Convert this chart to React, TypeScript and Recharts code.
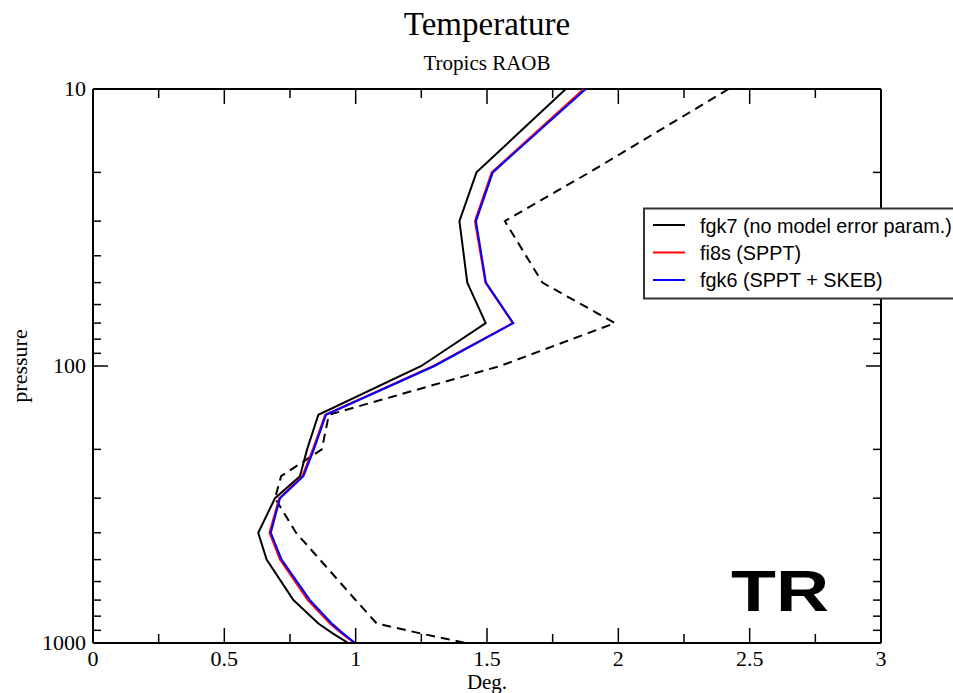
import { LineChart, Line, XAxis, YAxis, ReferenceLine } from "recharts";

// pressure levels (hPa)
const pressure = [10, 20, 30, 50, 70, 100, 150, 200, 250, 300, 400, 500, 700, 850, 925, 1000];

// RMS temperature error (deg) per level
const fgk7 = [1.8, 1.46, 1.395, 1.425, 1.495, 1.25, 0.858, 0.815, 0.788, 0.693, 0.629, 0.661, 0.763, 0.858, 0.914, 0.972];
const fi8s = [1.868, 1.518, 1.454, 1.494, 1.598, 1.296, 0.884, 0.837, 0.797, 0.709, 0.672, 0.712, 0.818, 0.902, 0.948, 0.996];
const fgk6 = [1.876, 1.522, 1.458, 1.496, 1.6, 1.3, 0.887, 0.841, 0.801, 0.712, 0.677, 0.718, 0.826, 0.909, 0.953, 0.998];
const spread = [2.42, 1.89, 1.568, 1.711, 1.987, 1.55, 0.898, 0.871, 0.716, 0.693, 0.773, 0.864, 1.0, 1.08, 1.25, 1.42];

const xTicks = [0, 0.25, 0.5, 0.75, 1, 1.25, 1.5, 1.75, 2, 2.25, 2.5, 2.75, 3];
const yTicks = [10, 20, 30, 40, 50, 60, 70, 80, 90, 100, 200, 300, 400, 500, 600, 700, 800, 900, 1000];
const yLabels = [10, 100, 1000];

const legendItems = [
  { name: "fgk7 (no model error param.)", color: "#000000" },
  { name: "fi8s (SPPT)", color: "#ff0000" },
  { name: "fgk6 (SPPT + SKEB)", color: "#0000ff" },
];

const rows = pressure.map((p, i) => ({
  p,
  fgk7: fgk7[i],
  fi8s: fi8s[i],
  fgk6: fgk6[i],
  spread: spread[i],
}));

const TOP = 89;
const BOTTOM = 643;
const LEFT = 93;
const RIGHT = 881;
const serif = "'Liberation Serif', 'Times New Roman', serif";
const sans = "'Liberation Sans', Arial, sans-serif";

function XTick(props: any) {
  const { x, payload } = props;
  const v = payload.value;
  const major = Math.abs(v * 2 - Math.round(v * 2)) < 1e-6;
  const len = major ? 15 : 9;
  return (
    <g>
      <line x1={x} x2={x} y1={BOTTOM} y2={BOTTOM - len} stroke="#000" strokeWidth={1.5} />
      <line x1={x} x2={x} y1={TOP} y2={TOP + len} stroke="#000" strokeWidth={1.5} />
      {major && (
        <text x={x} y={BOTTOM + 23} textAnchor="middle" fontFamily={serif} fontSize={22} fill="#000">
          {String(v)}
        </text>
      )}
    </g>
  );
}

function YTick(props: any) {
  const { y, payload } = props;
  const v = payload.value;
  const major = yLabels.includes(v);
  const len = major ? 15 : 8;
  return (
    <g>
      <line x1={LEFT} x2={LEFT + len} y1={y} y2={y} stroke="#000" strokeWidth={1.5} />
      <line x1={RIGHT} x2={RIGHT - len} y1={y} y2={y} stroke="#000" strokeWidth={1.5} />
      {major && (
        <text x={86} y={y + 7} textAnchor="end" fontFamily={serif} fontSize={22} fill="#000">
          {String(v)}
        </text>
      )}
    </g>
  );
}

export default function App() {
  return (
    <div style={{ position: "absolute", left: 0, top: 0, width: 953, height: 693, overflow: "hidden", background: "#fff" }}>
      <LineChart
        width={953}
        height={693}
        data={rows}
        layout="vertical"
        margin={{ top: TOP, right: 953 - RIGHT, bottom: 0, left: 0 }}
      >
        <XAxis
          type="number"
          domain={[0, 3]}
          ticks={xTicks}
          interval={0}
          height={50}
          tickLine={false}
          tick={XTick}
          axisLine={{ stroke: "#000", strokeWidth: 2 }}
          allowDataOverflow
        />
        <YAxis
          type="number"
          dataKey="p"
          scale="log"
          domain={[10, 1000]}
          ticks={yTicks}
          interval={0}
          width={LEFT}
          tickLine={false}
          tick={YTick}
          axisLine={{ stroke: "#000", strokeWidth: 2 }}
          allowDataOverflow
        />
        <ReferenceLine x={3} stroke="#000" strokeWidth={2} />
        <ReferenceLine y={10} stroke="#000" strokeWidth={2} />
        <Line dataKey="spread" stroke="#000" strokeWidth={2} strokeDasharray="9 6" dot={false} isAnimationActive={false} />
        <Line dataKey="fgk7" stroke="#000" strokeWidth={2} dot={false} isAnimationActive={false} />
        <Line dataKey="fi8s" stroke="#ff0000" strokeWidth={2} dot={false} isAnimationActive={false} />
        <Line dataKey="fgk6" stroke="#0000ff" strokeWidth={2} dot={false} isAnimationActive={false} />
      </LineChart>
      <svg width={953} height={693} style={{ position: "absolute", left: 0, top: 0, pointerEvents: "none" }}>
        <text x={487} y={35} textAnchor="middle" fontFamily={serif} fontSize={33} fill="#000">Temperature</text>
        <text x={487} y={70} textAnchor="middle" fontFamily={serif} fontSize={21} fill="#000">Tropics RAOB</text>
        <text x={487} y={689} textAnchor="middle" fontFamily={serif} fontSize={21} fill="#000">Deg.</text>
        <text x={27} y={366} textAnchor="middle" transform="rotate(-90 27 366)" fontFamily={serif} fontSize={22} fill="#000">pressure</text>
        <text x={731} y={611} fontFamily={sans} fontWeight="bold" fontSize={58} textLength={98} lengthAdjust="spacingAndGlyphs" fill="#000">TR</text>
        <rect x={644} y={208.5} width={330} height={90} fill="#fff" stroke="#333" strokeWidth={2} />
        {legendItems.map((it, i) => (
          <g key={it.name}>
            <line x1={653} x2={685} y1={225 + i * 27.5} y2={225 + i * 27.5} stroke={it.color} strokeWidth={2} />
            <text x={700} y={233 + i * 27} fontFamily={sans} fontSize={19.8} fill="#000">{it.name}</text>
          </g>
        ))}
      </svg>
    </div>
  );
}
